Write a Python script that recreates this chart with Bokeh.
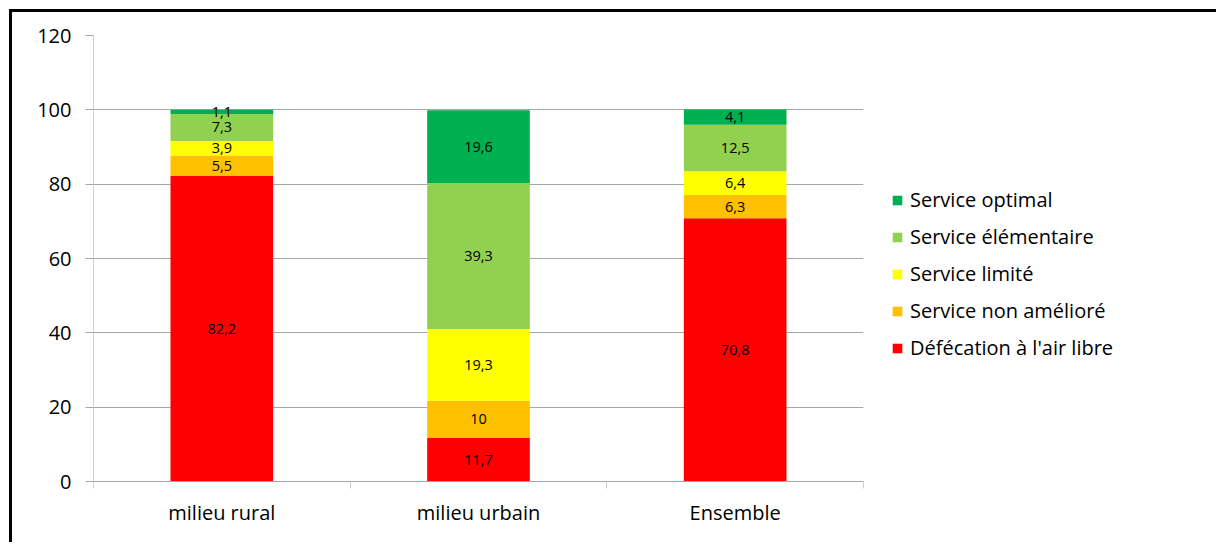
from bokeh.plotting import figure
from bokeh.layouts import row
from bokeh.models import ColumnDataSource, FixedTicker, Legend, LegendItem
from bokeh.embed import file_html
from bokeh.resources import INLINE
from bokeh.core.properties import value

categories = ["milieu rural", "milieu urbain", "Ensemble"]
series = ["Défécation à l'air libre", "Service non amélioré", "Service limité",
          "Service élémentaire", "Service optimal"]
defecation = [82.2, 11.7, 70.8]
non_ameliore = [5.5, 10.0, 6.3]
limite = [3.9, 19.3, 6.4]
elementaire = [7.3, 39.3, 12.5]
optimal = [1.1, 19.6, 4.1]
colors = ["#FF0000", "#FFC000", "#FFFF00", "#92D050", "#00B050"]
y_ticks = [0, 20, 40, 60, 80, 100, 120]

FONT = "Open Sans"
values_by_series = [defecation, non_ameliore, limite, elementaire, optimal]
keys = ["s0", "s1", "s2", "s3", "s4"]
xpos = [i + 0.5 for i in range(len(categories))]

data = {"x": xpos}
for k, v in zip(keys, values_by_series):
    data[k] = v
src = ColumnDataSource(data)

H = 530
p = figure(width=871, height=H, output_backend="svg", toolbar_location=None,
           x_range=(0, len(categories)), y_range=(0, 120),
           min_border_left=81, min_border_right=20, min_border_top=23, min_border_bottom=61)
p.outline_line_color = None
p.background_fill_color = "white"
p.border_fill_color = "white"

renderers = p.vbar_stack(keys, x="x", width=0.4, source=src, color=colors, line_color=None)

# data labels
lx, ly, lt = [], [], []
for i in range(len(categories)):
    bottom = 0.0
    for v in values_by_series:
        val = v[i]
        lx.append(xpos[i])
        ly.append(bottom + val / 2)
        lt.append(f"{val:g}".replace(".", ","))
        bottom += val
lsrc = ColumnDataSource(dict(x=lx, y=ly, t=lt))
p.text(x="x", y="y", text="t", source=lsrc, text_align="center", text_baseline="middle",
       text_font=value(FONT), text_font_size="14.5px", text_color="black")

# y axis
p.yaxis.ticker = FixedTicker(ticks=y_ticks)
p.yaxis.axis_line_color = "#d0d0d0"
p.yaxis.major_tick_line_color = "#a6a6a6"
p.yaxis.major_tick_out = 8
p.yaxis.major_tick_in = 0
p.yaxis.minor_tick_line_color = None
p.yaxis.major_label_text_font = FONT
p.yaxis.major_label_text_font_size = "20px"
p.yaxis.major_label_text_color = "black"
p.yaxis.major_label_standoff = 14

# x axis
p.xaxis.ticker = FixedTicker(ticks=xpos, minor_ticks=list(range(len(categories) + 1)))
p.xaxis.major_label_overrides = {x: c for x, c in zip(xpos, categories)}
p.xaxis.axis_line_color = "#a6a6a6"
p.xaxis.major_tick_line_color = None
p.xaxis.major_tick_out = 0
p.xaxis.major_tick_in = 0
p.xaxis.minor_tick_line_color = "#d0d0d0"
p.xaxis.minor_tick_out = 7
p.xaxis.minor_tick_in = 0
p.xaxis.major_label_text_font = FONT
p.xaxis.major_label_text_font_size = "20px"
p.xaxis.major_label_text_color = "black"
p.xaxis.major_label_standoff = 10

p.xgrid.grid_line_color = None
p.ygrid.grid_line_color = "#a6a6a6"
p.ygrid.ticker = FixedTicker(ticks=y_ticks)

# legend panel (separate figure so the legend is not clipped by the plot frame)
pl = figure(width=333, height=H, output_backend="svg", toolbar_location=None,
            x_range=(0, 1), y_range=(0, 1), x_axis_location=None, y_axis_location=None,
            min_border_left=0, min_border_right=0, min_border_top=0, min_border_bottom=0)
pl.outline_line_color = None
pl.grid.visible = False
pl.background_fill_color = "white"
pl.border_fill_color = "white"
dummy = [pl.vbar(x=[-10], top=[0], width=0.1, fill_color=c, line_color=None) for c in colors]

items = [LegendItem(label=s, renderers=[r]) for s, r in zip(series, dummy)][::-1]
legend = Legend(items=items, location=(8, 120), padding=0, margin=0,
                border_line_color=None, background_fill_alpha=0,
                glyph_width=12, glyph_height=12, label_height=24, spacing=10,
                label_text_font=FONT, label_text_font_size="20px", label_text_color="black",
                label_standoff=7)
pl.add_layout(legend, "center")

layout = row(p, pl, margin=(9, 0, 0, 9),
             styles={"border-left": "3px solid black", "border-top": "3px solid black"})

open("out.html", "w").write(file_html(layout, INLINE))
